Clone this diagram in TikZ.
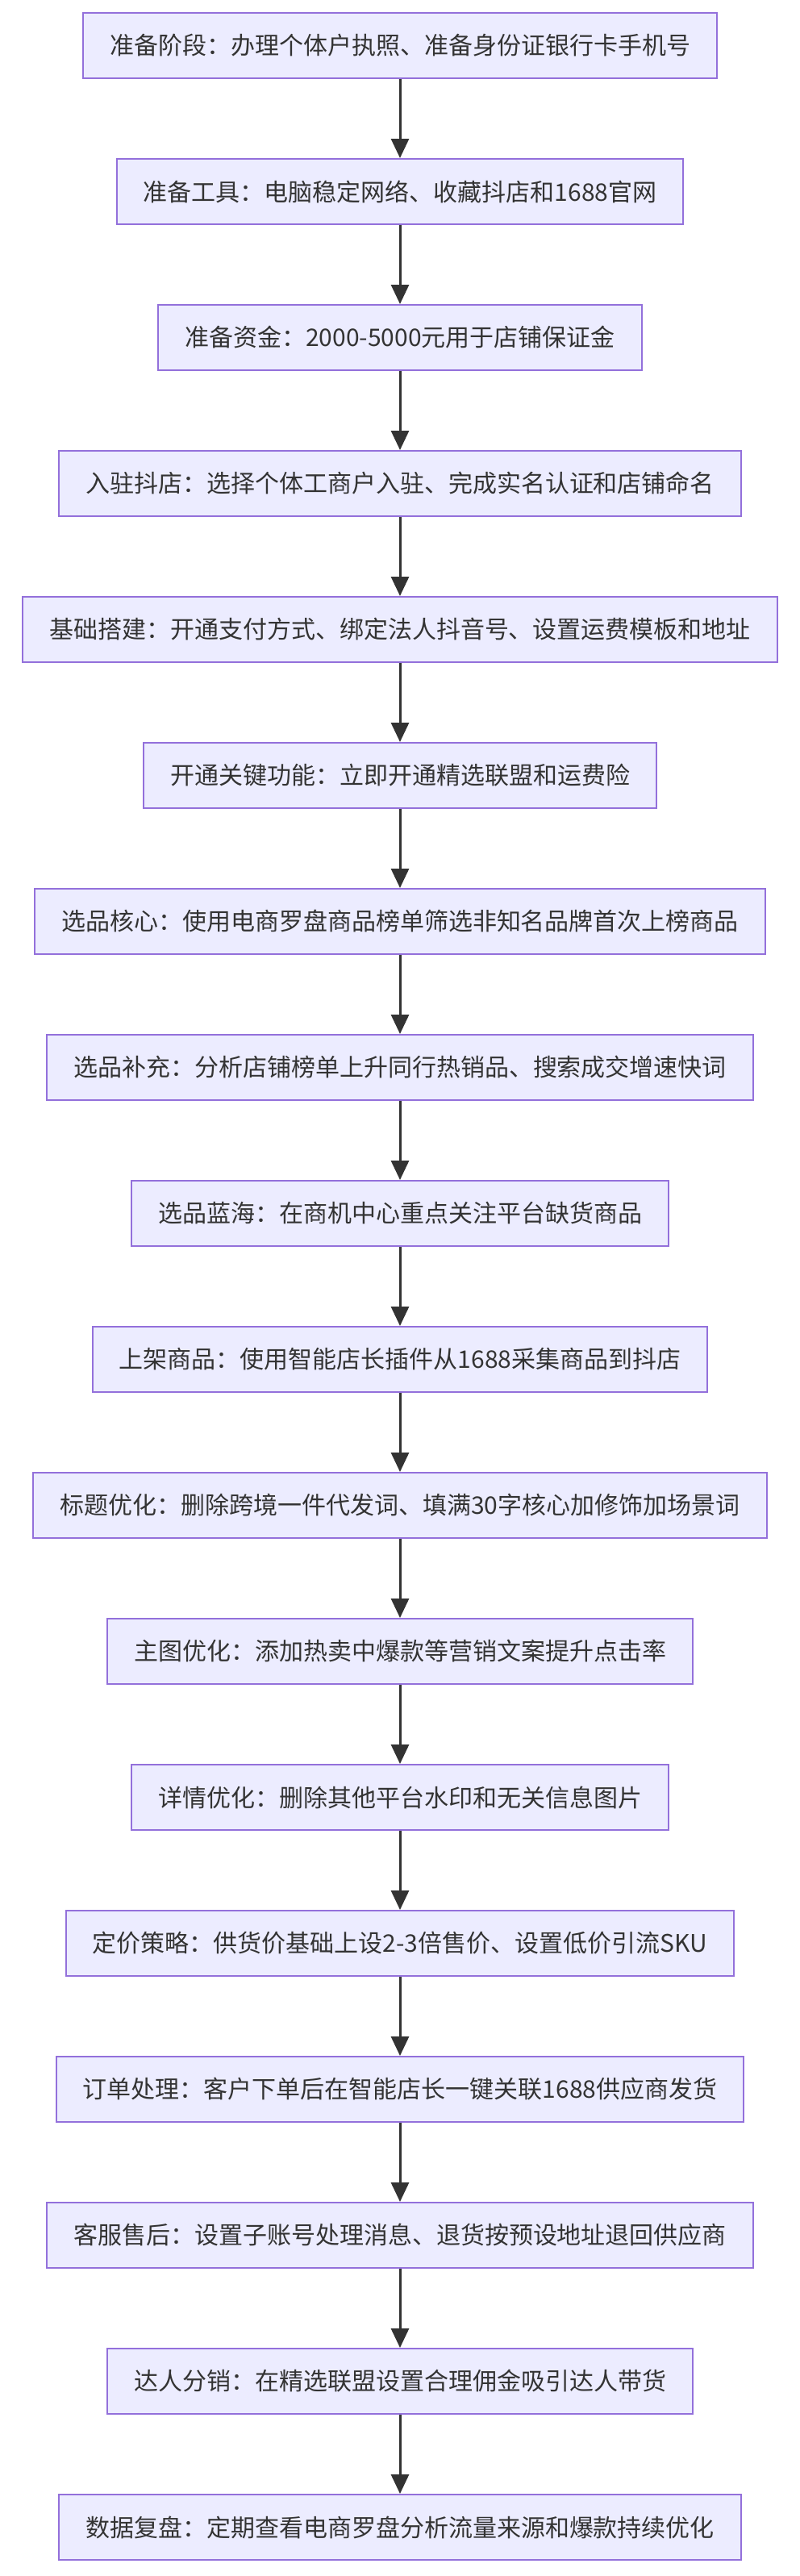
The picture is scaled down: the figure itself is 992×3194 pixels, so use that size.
\documentclass[tikz,border=0pt]{standalone}
\usepackage{fontspec}
\setmainfont{Noto Sans CJK SC}
\usetikzlibrary{arrows.meta}
\definecolor{bfill}{HTML}{ECECFF}
\definecolor{bdraw}{HTML}{9370DB}
\definecolor{ln}{HTML}{333333}
\begin{document}
\begin{tikzpicture}[x=1pt,y=1pt,
  stepbox/.style={draw=bdraw,fill=bfill,line width=2pt,minimum height=81pt,inner xsep=33pt,font=\fontsize{30}{36}\selectfont,text=ln},
  conn/.style={draw=ln,line width=3pt,-{Triangle[length=24pt,width=22pt]}}]
\useasboundingbox (0,0) rectangle (992,-3194);
\foreach \t [count=\i from 0] in {
准备阶段：办理个体户执照、准备身份证银行卡手机号,
准备工具：电脑稳定网络、收藏抖店和1688官网,
准备资金：2000-5000元用于店铺保证金,
入驻抖店：选择个体工商户入驻、完成实名认证和店铺命名,
基础搭建：开通支付方式、绑定法人抖音号、设置运费模板和地址,
开通关键功能：立即开通精选联盟和运费险,
选品核心：使用电商罗盘商品榜单筛选非知名品牌首次上榜商品,
选品补充：分析店铺榜单上升同行热销品、搜索成交增速快词,
选品蓝海：在商机中心重点关注平台缺货商品,
上架商品：使用智能店长插件从1688采集商品到抖店,
标题优化：删除跨境一件代发词、填满30字核心加修饰加场景词,
主图优化：添加热卖中爆款等营销文案提升点击率,
详情优化：删除其他平台水印和无关信息图片,
定价策略：供货价基础上设2-3倍售价、设置低价引流SKU,
订单处理：客户下单后在智能店长一键关联1688供应商发货,
客服售后：设置子账号处理消息、退货按预设地址退回供应商,
达人分销：在精选联盟设置合理佣金吸引达人带货,
数据复盘：定期查看电商罗盘分析流量来源和爆款持续优化}{
  \node[stepbox] (n\i) at (496,{-56.5-181*\i}) {\t};
}
\foreach \i [evaluate=\i as \j using int(\i+1)] in {0,...,16}{
  \draw[conn] (n\i.south) -- (n\j.north);
}
\end{tikzpicture}
\end{document}
